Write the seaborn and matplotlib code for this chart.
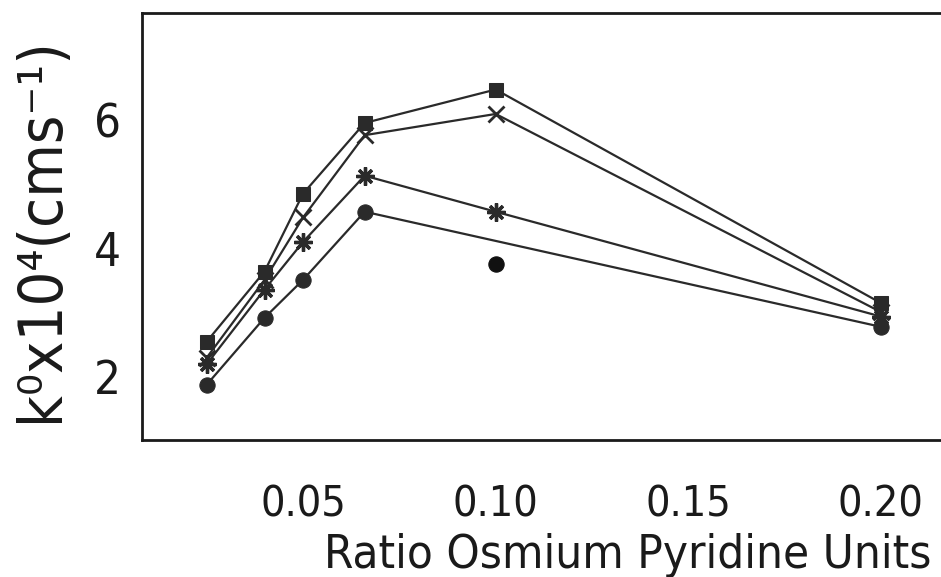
import matplotlib
matplotlib.use("Agg")
import matplotlib.pyplot as plt
import seaborn as sns
import numpy as np
import pandas as pd

# Data
ratio = [0.025, 0.04, 0.05, 0.066, 0.10, 0.20]
squares = [2.55, 3.64, 4.85, 5.95, 6.47, 3.15]
crosses = [2.30, 3.51, 4.48, 5.76, 6.09, 3.01]
asterisks = [2.20, 3.36, 4.10, 5.13, 4.57, 2.94]
circles_x = [0.025, 0.04, 0.05, 0.066, 0.20]
circles = [1.88, 2.92, 3.51, 4.57, 2.78]
outlier_x = [0.10]
outlier_y = [3.76]

xticks = [0.05, 0.10, 0.15, 0.20]
xtick_labels = ["0.05", "0.10", "0.15", "0.20"]
yticks = [2, 4, 6]
ytick_labels = ["2", "4", "6"]
xlabel = "Ratio Osmium Pyridine Units"
ylabel = "k\u2070x10\u2074(cms\u207b\u00b9)"

sns.set_theme(style="white")
plt.rcParams["font.family"] = ["DejaVu Sans"]
plt.rcParams["font.stretch"] = "condensed"

W, H = 941, 577
fig = plt.figure(figsize=(W / 100, H / 100), dpi=100)
ax = fig.add_axes([142 / W, 1 - 440 / H, 1 - 142 / W, (440 - 13) / H])

ink = "#2a2a2a"
base = dict(color=ink, linewidth=1.6, markeredgecolor=ink,
            markerfacecolor=ink, ax=ax, legend=False)

sns.lineplot(x=ratio, y=squares, marker="s", markersize=10, **base)
sns.lineplot(x=ratio, y=crosses, marker="x", markersize=12, markeredgewidth=2.0, **base)
sns.lineplot(x=ratio, y=asterisks, marker=(8, 2, 0), markersize=13, markeredgewidth=2.4, **base)
sns.lineplot(x=circles_x, y=circles, marker="o", markersize=11, **base)
sns.scatterplot(x=outlier_x, y=outlier_y, marker="o", s=120, color="#111111",
                edgecolor="#111111", ax=ax, legend=False, zorder=3)

ax.set_xlim(0.0082, 0.2156)
ax.set_ylim(1.02, 7.66)
ax.set_xticks(xticks)
ax.set_xticklabels(xtick_labels)
ax.set_yticks(yticks)
ax.set_yticklabels(ytick_labels)

for lab in ax.get_xticklabels():
    lab.set_fontsize(31)
    lab.set_fontstretch("condensed")
    lab.set_color("#1a1a1a")
for lab in ax.get_yticklabels():
    lab.set_fontsize(34)
    lab.set_fontstretch("condensed")
    lab.set_color("#1a1a1a")

ax.tick_params(axis="x", direction="in", length=5, width=1.5, pad=31, colors="#1a1a1a")
ax.tick_params(axis="y", direction="in", length=5, width=1.5, pad=15, colors="#1a1a1a")

for side in ["left", "bottom", "top"]:
    ax.spines[side].set_visible(True)
    ax.spines[side].set_color("#1a1a1a")
    ax.spines[side].set_linewidth(2.0)
ax.spines["right"].set_visible(False)

ax.set_xlabel(xlabel, fontsize=34, color="#1a1a1a", fontstretch="condensed")
ax.xaxis.set_label_coords((628 - 142) / (W - 142), -(568 - 440) / (440 - 13))
ax.xaxis.label.set_va("baseline")
ax.set_ylabel(ylabel, fontsize=44, color="#1a1a1a", fontstretch="condensed")
ax.yaxis.set_label_coords(-(142 - 42) / (W - 142), (440 - 230) / (440 - 13))
ax.yaxis.label.set_va("center")
ax.yaxis.label.set_ha("center")

fig.savefig("out.png", dpi=100, facecolor="white")
